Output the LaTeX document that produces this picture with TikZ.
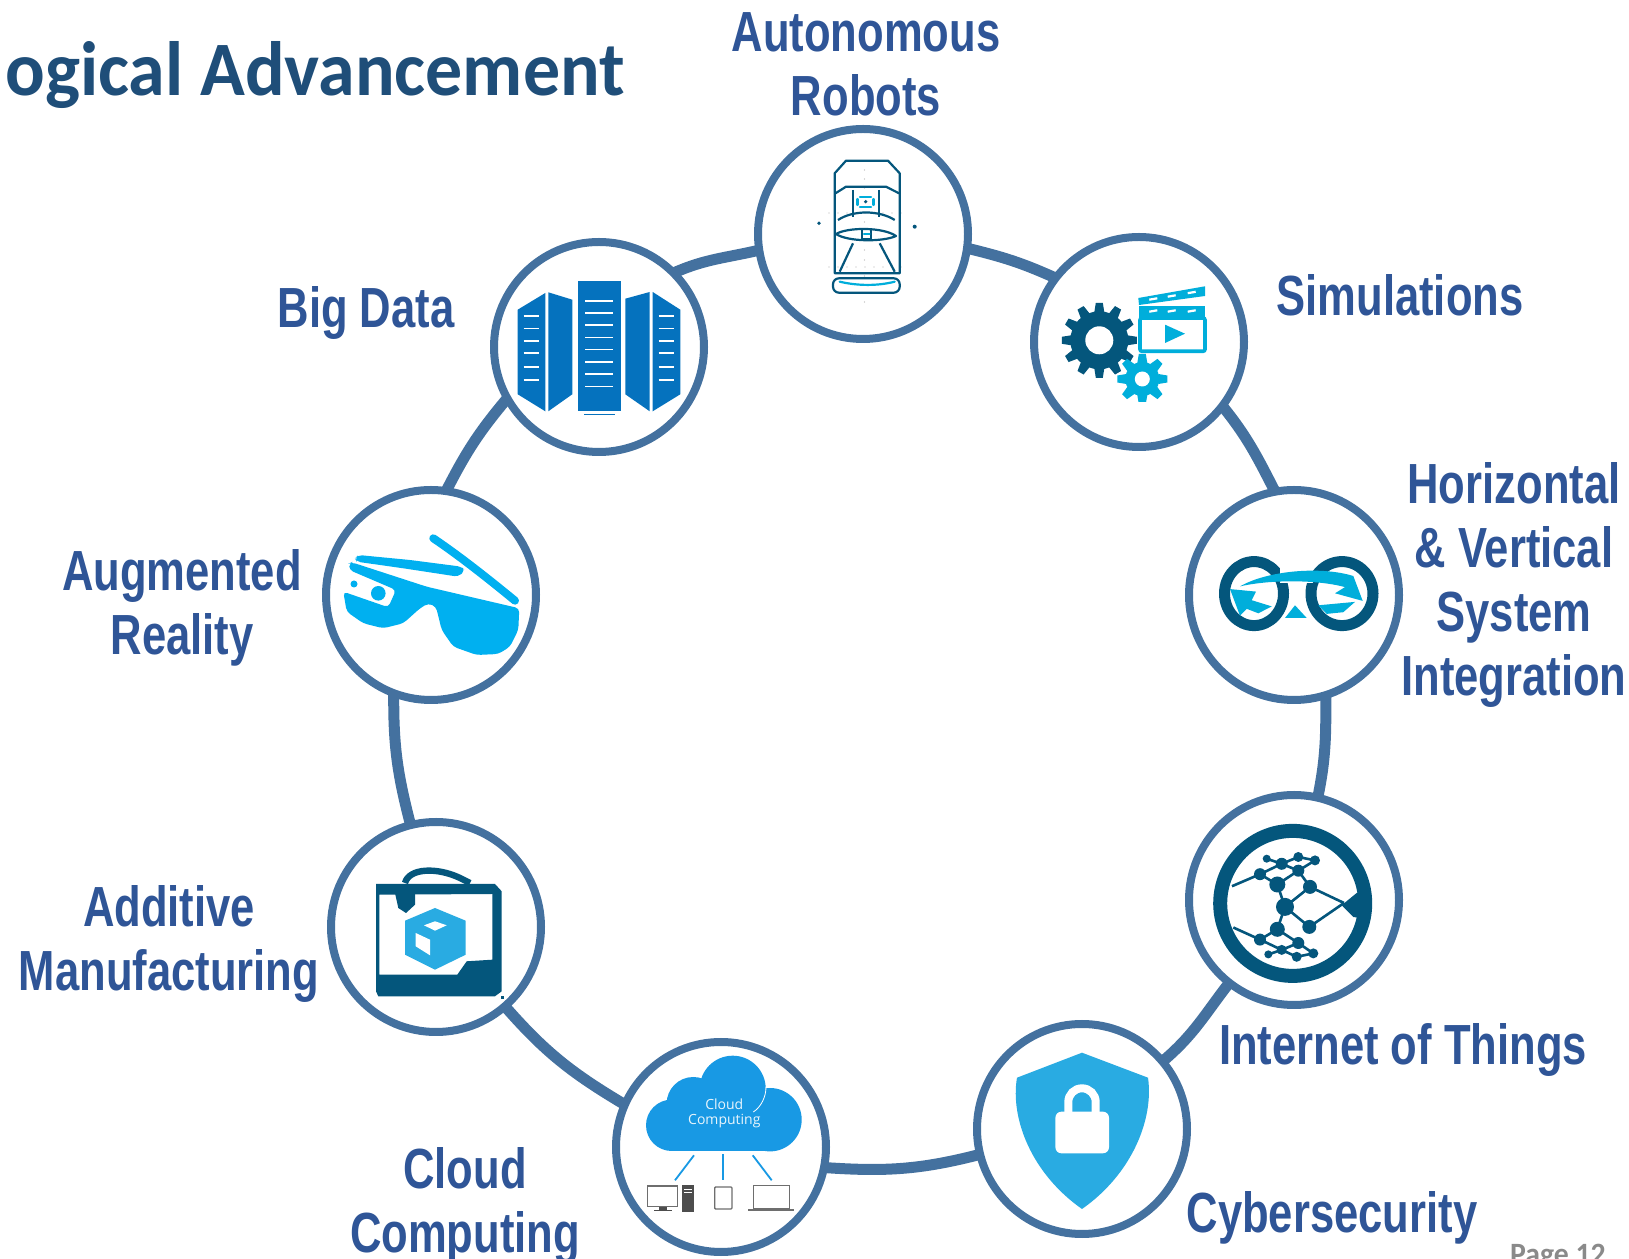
\documentclass[tikz,border=0pt]{standalone}
\usepackage{fontspec}
\usepackage{xcolor}
\newfontfamily\labelfont[FakeStretch=0.77]{Liberation Sans}
\newfontfamily\titlefont[FakeStretch=0.96]{Carlito}
\newfontfamily\cloudfont{Open Sans}
\definecolor{ringblue}{HTML}{44719F}
\definecolor{labelblue}{HTML}{2F5597}
\definecolor{titleblue}{HTML}{1F4E79}
\definecolor{icondark}{HTML}{04567C}
\definecolor{iconcyan}{HTML}{00AEDB}
\definecolor{towerblue}{HTML}{0572BE}
\definecolor{glassblue}{HTML}{00B0F0}
\definecolor{cloudblue}{HTML}{1899E4}
\definecolor{shieldblue}{HTML}{29ABE2}
\definecolor{devicegray}{HTML}{6E6E6E}
\definecolor{pagegray}{HTML}{8A8A8A}
\tikzset{
  techcircle/.style={circle, draw=ringblue, line width=4pt, fill=white, minimum size=105pt, inner sep=0pt},
  ringlink/.style={draw=ringblue, line width=5.5pt, shorten >=-1.5pt, shorten <=-1.5pt},
  techlabel/.style={text=labelblue, align=center, inner sep=0pt, font=\labelfont\bfseries\fontsize{28.3}{32}\selectfont},
  carline/.style={draw=icondark, line width=1.1pt, line join=round},
  carcyan/.style={draw=iconcyan, line width=1.1pt, line cap=round},
  towerline/.style={draw=white, line width=0.8pt}
}
% one gear: x, y, teeth, root radius, tip radius, half tooth width, hole radius, colour
\newcommand{\gearicon}[8]{
  \begin{scope}[shift={(#1,#2)}]
    \fill[#8] (0,0) circle (#4);
    \foreach \i in {1,...,#3} {
      \fill[#8, rotate={360*\i/#3}] ({-#6},{#4-1}) -- ({-0.7*#6},#5) -- ({0.7*#6},#5) -- (#6,{#4-1}) -- cycle;
    }
    \fill[white] (0,0) circle (#7);
  \end{scope}
}
\begin{document}
\begin{tikzpicture}[x=0.5pt, y=0.5pt]
\useasboundingbox (0,0) rectangle (1629,1259);
\clip (0,0) rectangle (1629,1259);

\node[anchor=base west, inner sep=0pt, text=titleblue, font=\titlefont\bfseries\fontsize{38.5}{46}\selectfont] (title) at (5,1163) {ogical Advancement};
\node[anchor=base, inner sep=0pt, text=pagegray, font=\titlefont\bfseries\fontsize{15.5}{18}\selectfont] (pagenum) at (1558,-6) {Page 12};

% Circles of the ring
\node[techcircle] (robots) at (863,1025) {};
\node[techcircle] (simul) at (1139,917) {};
\node[techcircle] (integr) at (1294,664) {};
\node[techcircle] (things) at (1294,359) {};
\node[techcircle] (cyber) at (1082,130) {};
\node[techcircle] (cloud) at (721,112) {};
\node[techcircle] (additive) at (436,332) {};
\node[techcircle] (augment) at (431,664) {};
\node[techcircle] (bigdata) at (599,912) {};

% Arcs between the circles
\draw[ringlink] (robots.-8.5) to[out=-13.7, in=155.8] (simul.143.9);
\draw[ringlink] (simul.-38.2) to[out=-51.2, in=117.2] (integr.101.1);
\draw[ringlink] (integr.-73) to[out=-90, in=78.5] (things.77.9);
\draw[ringlink] (things.-128.2) to[out=-127.7, in=40.5] (cyber.40.9);
\draw[ringlink] (cyber.-166.2) to[out=-165.7, in=-3.9] (cloud.-11.6);
\draw[ringlink] (cloud.156.5) to[out=149.2, in=-48.7] (additive.-49.5);
\draw[ringlink] (additive.104.8) to[out=104.5, in=-90.4] (augment.-110.4);
\draw[ringlink] (augment.81.5) to[out=62.8, in=-129.9] (bigdata.-150.2);
\draw[ringlink] (bigdata.44.6) to[out=23.4, in=-166.9] (robots.-171.6);

% Labels
\node[techlabel] (robotslabel) at (866,1195) {Autonomous\\Robots};
\node[techlabel] (simullabel) at (1400,964) {Simulations};
\node[techlabel] (integrlabel) at (1514,674) {Horizontal\\\& Vertical\\System\\Integration};
\node[techlabel] (thingslabel) at (1403,209) {Internet of Things};
\node[techlabel] (cyberlabel) at (1332,41) {Cybersecurity};
\node[techlabel] (cloudlabel) at (465,53) {Cloud\\Computing};
\node[techlabel] (additivelabel) at (169,315) {Additive\\Manufacturing};
\node[techlabel] (augmentlabel) at (182,651) {Augmented\\Reality};
\node[techlabel] (bigdatalabel) at (366,946) {Big Data};

% Car seen from above
\begin{scope}[shift={(robots.center)}]
  \foreach \x in {-34,-25,-16,-7,2,11,20,29,38} {
    \fill[gray!60] (\x,21) circle (0.7);
    \fill[gray!60] (\x,-33) circle (0.7);
  }
  \foreach \y in {64,55,46,12,-16,-26,-42,-59,-68} {
    \fill[gray!60] (1.5,\y) circle (0.7);
  }
  \draw[carline] (-28.3,-39.3) -- (-28.3,60.7) -- (-17,73.3) -- (25,73.3) -- (36.7,60.7) -- (36.7,-39.3) -- cycle;
  \draw[carline] (-27.5,40.7) -- (-17,47.3) -- (23,47.3) -- (36,40.7);
  \draw[carline] (-10,44) -- (-10,17.3);
  \draw[carline] (16,44) -- (16,17.3);
  \draw[carline] (-25,14) .. controls (-10,24) and (16,24) .. (31.7,14);
  \draw[carline] (-27,0) .. controls (-15,7) and (20,7) .. (33,-2) .. controls (20,-8) and (-15,-8) .. (-27,0);
  \draw[carline] (-0.7,4.7) rectangle (8.3,-5.3);
  \draw[carcyan] (1,0) -- (6.5,0);
  \draw[carline] (-10,-9.3) -- (-23.3,-37.7);
  \draw[carline] (16.7,-9.3) -- (31.7,-37.7);
  \draw[carline, rounded corners=3pt] (-30,-44.3) rectangle (36.7,-58.7);
  \draw[carcyan] (-23.3,-47.7) .. controls (-5,-52) and (15,-52) .. (31.7,-47.7);
  \draw[carcyan] (-3,37) -- (8,37) (-3,27) -- (8,27) (-5.5,29) -- (-5.5,35) (10.5,29) -- (10.5,35);
  \fill[icondark] (2.7,32.3) circle (1.8);
  \fill[icondark] (-44,10.7) circle (1.8);
  \fill[icondark] (51.7,7.3) circle (2);
\end{scope}

% Gears and film board
\begin{scope}[shift={(simul.center)}]
  \gearicon{-39.7}{1.7}{12}{29}{37.5}{5}{14}{icondark}
  \begin{scope}
    \clip (-70,-59.3) rectangle (75,60);
    \gearicon{3.3}{-37}{8}{17}{25}{5}{7.5}{iconcyan}
  \end{scope}
  \draw[iconcyan, line width=1.8pt, rounded corners=1pt] (1,24) rectangle (66,-9.3);
  \fill[iconcyan] (0,35.7) -- (66,35.7) -- (66,24) -- (0,24) -- cycle;
  \fill[iconcyan] (-0.7,44) -- (66,55.7) -- (66,46) -- (0,37) -- cycle;
  \foreach \x/\y in {14.3/43,32.7/46,52.7/49.5,14.3/31,32.7/31,52.7/31} {
    \draw[white, line width=1.1pt] (\x-4,\y-0.7) -- (\x+4,\y+0.7);
  }
  \fill[iconcyan] (26,17.3) -- (46,8.3) -- (26,-1) -- cycle;
\end{scope}

% Two linked rings with arrows
\begin{scope}[shift={(integr.center)}]
  \draw[icondark, line width=5.5pt] (-40,1.4) ellipse (29.5 and 32);
  \draw[icondark, line width=5.5pt] (48,1.4) ellipse (31 and 32);
  \fill[white] (-14,12) rectangle (19,45);
  \fill[iconcyan] (-54,8.6) .. controls (-27.3,24.1) and (26,29.3) .. (59.3,19) -- (68.7,-5.9) -- (41,1.7) -- (51,7.9) .. controls (22.7,15.5) and (-24,15.5) .. (-54,8.6) -- cycle;
  \fill[iconcyan] (-64,5.9) -- (-38,3.4) -- (-42.3,-5.2) -- (-22.3,-11.4) -- (-35.7,-18.3) -- (-47.3,-13.8) -- (-54,-20.7) -- cycle;
  \fill[iconcyan] (24.3,-10.3) -- (61,-6.9) -- (49.3,-17.2) -- (32.7,-18.9) -- cycle;
  \fill[iconcyan] (-9,-23) -- (1,-10.3) -- (12.7,-23) -- cycle;
\end{scope}

% Globe with network
\begin{scope}[shift={(things.center)}]
  \draw[icondark, line width=7pt] (-1.3,-3.4) circle (72.5);
  \foreach \name/\x/\y in {a/-9/-6.9,b/-16.7/15.5,c/16/13.1,d/-16.7/-29.3,e/15.3/-26.9,f/-34/25.8,g/4.3/29.3,h/-12.3/36.2,i/4.3/43,j/21/39.6,k/-34/-39.6,l/4.3/-43,m/-12.3/-49.9,n/2.7/-56.8,o/19.3/-53.4,p/-27.3/41.3,q/-25.7/-54.4,r/50/-3,s/-62/13.8,t/-60.7/-27.5} {
    \coordinate (net\name) at (\x,\y);
  }
  \foreach \a/\b in {a/b,a/c,a/d,a/e,c/r,e/r,f/s,k/t,f/b,f/h,h/g,g/b,h/i,i/j,h/p,k/d,k/m,l/d,l/m,m/n,n/o,l/o,m/q,c/g,g/j} {
    \draw[icondark, line width=1.3pt] (net\a) -- (net\b);
  }
  \foreach \name/\r in {a/9,b/8,c/7,d/7.5,e/7,f/6,g/6,h/6,i/5,j/5,k/6,l/6,m/5,n/5,o/5,p/4,q/4} {
    \fill[icondark] (net\name) circle (\r);
  }
  \fill[icondark] (47.7,-5.2) -- (62.7,7) -- (72.7,7) -- (72.7,-19) -- (59.3,-17) -- cycle;
\end{scope}

% Shield with lock
\begin{scope}[shift={(cyber.center)}]
  \fill[shieldblue] (0,76.3) -- (66,51.3) .. controls (72,10) and (50,-45) .. (0,-80) .. controls (-50,-45) and (-72,10) .. (-65,51.3) -- cycle;
  \fill[white, rounded corners=3pt] (-26.6,17.3) rectangle (27,-24.3);
  \draw[white, line width=4pt] (-13.7,15) -- (-13.7,27) arc[start angle=180, end angle=0, radius=13.7] -- (13.7,15);
\end{scope}

% Cloud and devices
\begin{scope}[shift={(cloud.center)}]
  \fill[cloudblue] (-49.3,21.7) circle (25.7);
  \fill[cloudblue] (-27.7,43.3) circle (26.7);
  \fill[cloudblue] (11.7,58.3) circle (33);
  \fill[cloudblue] (49,27.3) circle (31.7);
  \fill[cloudblue] (-49.3,-4) rectangle (49,30);
  \draw[white, line width=0.4pt] (32.3,35) .. controls (40,40) and (45,50) .. (45,60);
  \node[inner sep=0pt, text=white!90!cloudblue, font=\cloudfont\fontsize{7}{8}\selectfont] (cloudtop) at (3.3,42.7) {Cloud};
  \node[inner sep=0pt, text=white!90!cloudblue, font=\cloudfont\fontsize{7}{8}\selectfont] (cloudbot) at (3.3,25.7) {Computing};
  \draw[cloudblue, line width=0.9pt] (-27,-8.3) -- (-46,-33.3);
  \draw[cloudblue, line width=0.9pt] (1.7,-7.3) -- (1.7,-33.3);
  \draw[cloudblue, line width=0.9pt] (31.7,-8.3) -- (50.7,-33.3);
  \draw[devicegray, line width=0.6pt] (-73.3,-39) rectangle (-43.3,-59.3);
  \fill[devicegray!70!black] (-61.7,-60) rectangle (-53.7,-63.3);
  \fill[devicegray!70!black] (-67,-63.3) rectangle (-49.3,-64.5);
  \fill[devicegray!70!black] (-38.7,-38.3) rectangle (-27.3,-65);
  \draw[white, line width=0.4pt] (-37,-42) -- (-29,-42) (-37,-45) -- (-29,-45);
  \draw[devicegray, line width=0.7pt, rounded corners=0.5pt] (-6.3,-40) rectangle (11,-62);
  \draw[devicegray, line width=0.5pt] (32.3,-38.3) rectangle (68,-62);
  \draw[devicegray, line width=0.7pt] (27.3,-63) -- (73,-63);
\end{scope}

% Printer with cube
\begin{scope}[shift={(additive.center)}]
  \fill[icondark, even odd rule] (-60,43) -- (59,43) -- (65.7,35.7) -- (65.7,-64.3) -- (59,-69.3) -- (-57.7,-69.3) -- (-60,-64.3) -- cycle
    (-56.7,32.3) -- (56.3,33) -- (56.3,-32.7) -- (30.7,-34.3) -- (21.3,-47.7) -- (-56.7,-47.7) -- cycle;
  \draw[icondark, line width=3.2pt] (-31,44) .. controls (-27,59) and (1,60) .. (24,49) -- (34,44);
  \fill[icondark] (-41,34) -- (-21,34) -- (-21,22.3) -- (-30,14) -- (-37.7,19) -- cycle;
  \fill[shieldblue] (-1,19) -- (29.7,6.3) -- (29.7,-27.7) -- (-1,-42.7) -- (-31,-27.7) -- (-31,6.3) -- cycle;
  \fill[white] (-1,5.7) -- (10.7,1.7) -- (-1,-3.7) -- (-12,1.7) -- cycle;
  \fill[white] (-20.3,-6) -- (-6,-12.7) -- (-6,-28.3) -- (-20.3,-19.3) -- cycle;
  \fill[icondark] (64.5,-69) rectangle (67.5,-72);
\end{scope}

% Smart glasses
\begin{scope}[shift={(augment.center)}]
  \fill[glassblue, rounded corners=2pt] (-81.7,31.7) -- (-79.3,32.7) -- (-4.3,8.3) -- (88.3,-13.3) -- (87.3,-35) -- (79,-51.7) -- (67.3,-59) -- (45.7,-60) -- (22.3,-51.7) -- (10.7,-35) -- (5,-11.7) -- (-2.7,-8.3) -- (-11,-13.3) -- (-27.7,-28.3) -- (-47.7,-33.3) -- (-67.7,-28.3) -- (-84.3,-16.7) -- (-87.7,3.3) -- (-42.7,-12.3) -- (-35,5) -- (-81.7,25) -- cycle;
  \fill[glassblue, rounded corners=2pt] (-76,36.7) -- (-72.7,40) -- (-21,35) -- (30.7,28.3) -- (34,24.3) -- (27.3,18.3) -- (-27.7,26.7) -- (-74.3,33.3) -- cycle;
  \draw[glassblue, line width=4pt, line cap=round] (2.3,56.7) .. controls (30,38) and (60,14) .. (84,-5.7);
  \fill[glassblue] (-52.7,1.7) circle (7.3);
  \fill[glassblue] (-77,11) circle (3.5);
\end{scope}

% Server towers
\begin{scope}[shift={(bigdata.center)}]
  \fill[towerblue] (-21.3,65.7) rectangle (22.3,-64.3);
  \foreach \y in {46,34,21.7,9.3,-2.7,-15.3,-27,-39.7} {
    \draw[towerline] (-13.7,\y) -- (14,\y);
  }
  \draw[towerblue, line width=0.7pt] (-15,-67.3) -- (16,-67.3);
  \fill[towerblue] (-81.3,37.3) -- (-53.7,54) -- (-53.7,-64.3) -- (-81.3,-47.3) -- cycle;
  \fill[towerblue] (-50.7,54.7) -- (-26.7,47.3) -- (-26.7,-47.3) -- (-50.7,-64.3) -- cycle;
  \fill[towerblue] (26.3,48.3) -- (50.7,55) -- (50.7,-64.3) -- (26.3,-47.3) -- cycle;
  \fill[towerblue] (53.7,55) -- (81.3,37.3) -- (81.3,-47.3) -- (53.7,-64.3) -- cycle;
  \foreach \y in {30.7,18.3,5.7,-6.3,-20,-33.3} {
    \draw[towerline] (-75.3,\y) -- (-60,\y);
    \draw[towerline] (59.7,\y) -- (75.3,\y);
  }
\end{scope}
\end{tikzpicture}
\end{document}
